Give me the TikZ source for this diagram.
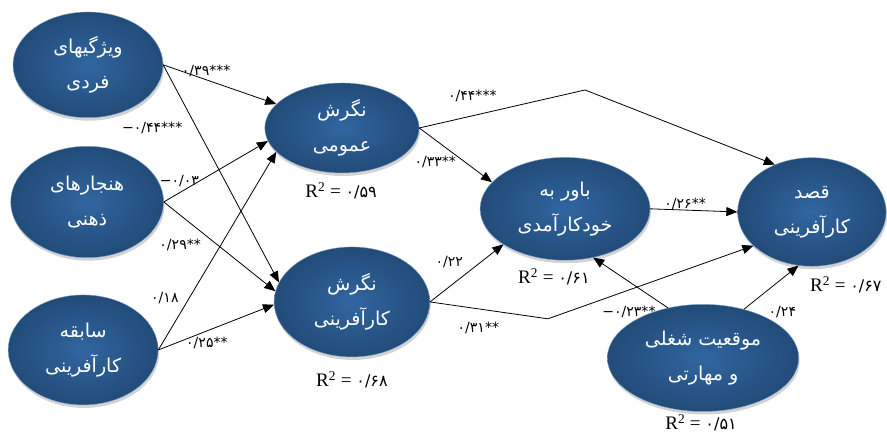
\documentclass[tikz,border=0pt]{standalone}
\usepackage{fontspec}
\setmainfont{Liberation Serif}
\newfontfamily\farsifont[Script=Arabic]{DejaVu Sans}
\newfontfamily\numfont{DejaVu Sans}
\TeXXeTstate=1
\usepackage{tikz}
\usetikzlibrary{shapes.geometric,shadows,arrows.meta}
\definecolor{nodeblue}{HTML}{3066A0}
\definecolor{nodedark}{HTML}{224B78}
\definecolor{nodeedge}{HTML}{7EA3CB}

\begin{document}
\begin{tikzpicture}[latent/.style={ellipse, shading=radial, inner color=nodeblue, outer color=nodedark, draw=nodeedge, line width=0.4pt, drop shadow={opacity=0.35, shadow xshift=1pt, shadow yshift=-3pt}, text=white, align=center, inner sep=0pt, font=\farsifont\fontsize{19}{35}\selectfont},
	coef/.style={font=\numfont\fontsize{14}{16}\selectfont, inner sep=2pt},
	rsq/.style={font=\fontsize{19}{22}\selectfont},
	link/.style={-{Triangle[length=11pt,width=9pt]}, line width=0.8pt}]
	\useasboundingbox (0,0) rectangle (31.05,15.19);
	\node[latent, minimum width=5.25cm, minimum height=3.7cm] at (3.08,12.92) (fardi) {\beginR ویژگیهای\endR\\\beginR فردی\endR};
	\node[latent, minimum width=5.35cm, minimum height=3.9cm] at (3.05,8.12) (zehni) {\beginR هنجارهای\endR\\\beginR ذهنی\endR};
	\node[latent, minimum width=5.25cm, minimum height=3.85cm] at (2.91,2.94) (sabeghe) {\beginR سابقه\endR\\\beginR کارآفرینی\endR};
	\node[latent, minimum width=5.4cm, minimum height=3.15cm] at (11.97,10.71) (omoomi) {\beginR نگرش\endR\\\beginR عمومی\endR};
	\node[latent, minimum width=5.45cm, minimum height=3.85cm] at (12.32,4.62) (karafarini) {\beginR نگرش\endR\\\beginR کارآفرینی\endR};
	\node[latent, minimum width=5.95cm, minimum height=3.6cm] at (19.78,7.88) (bavar) {\beginR باور به\endR\\\beginR خودکارآمدی\endR};
	\node[latent, minimum width=5.2cm, minimum height=3.8cm] at (28.42,7.77) (ghasd) {\beginR قصد\endR\\\beginR کارآفرینی\endR};
	\node[latent, minimum width=6.7cm, minimum height=3.75cm] at (24.61,2.66) (mowqeiat) {\beginR موقعیت شغلی\endR\\\beginR و مهارتی\endR};
	
	\node[rsq] at (11.94,8.51) (r2omoomi) {R\textsuperscript{2} = {\numfont\fontsize{16}{18}\selectfont ۰/۵۹}};
	\node[rsq] at (12.32,1.89) (r2karafarini) {R\textsuperscript{2} = {\numfont\fontsize{16}{18}\selectfont ۰/۶۸}};
	\node[rsq] at (19.39,5.5) (r2bavar) {R\textsuperscript{2} = {\numfont\fontsize{16}{18}\selectfont ۰/۶۱}};
	\node[rsq] at (29.61,5.22) (r2ghasd) {R\textsuperscript{2} = {\numfont\fontsize{16}{18}\selectfont ۰/۶۷}};
	\node[rsq] at (24.54,0.4) (r2mowqeiat) {R\textsuperscript{2} = {\numfont\fontsize{16}{18}\selectfont ۰/۵۱}};
	
	\coordinate (k1) at (20.48,12.04);
	\coordinate (k2) at (19.18,4.03);
	
	\draw[link] (fardi.east) -- node[coef, pos=0.38, anchor=south, yshift=1pt] {۰/۳۹***} (omoomi.160);
	\draw[link] (fardi.east) -- node[coef, pos=0.29, anchor=east, xshift=-12pt] {−۰/۴۴***} (karafarini.165);
	\draw[link] (zehni.east) -- node[coef, pos=0.15, anchor=south, yshift=4pt] {−۰/۰۳} (omoomi.190);
	\draw[link] (zehni.east) -- node[coef, pos=0.48, anchor=east, xshift=-14pt] {۰/۲۹**} (karafarini.172);
	\draw[link] (sabeghe.east) -- node[coef, pos=0.26, anchor=east, xshift=-8pt] {۰/۱۸} (omoomi.200);
	\draw[link] (sabeghe.east) -- node[coef, pos=0.42, anchor=north, yshift=-4pt] {۰/۲۵**} (karafarini.182);
	\draw[link] (omoomi.east) -- node[coef, pos=0.32, anchor=south, yshift=12pt] {۰/۴۴***} (k1) -- (ghasd.128);
	\draw[link] (omoomi.east) -- node[coef, pos=0.62, anchor=east, xshift=-6pt] {۰/۳۳**} (bavar.160);
	\draw[link] (karafarini.east) -- node[coef, pos=0.7, anchor=east, xshift=-16pt] {۰/۲۲} (bavar.210);
	\draw[link] (karafarini.east) -- node[coef, pos=0.41, anchor=north, yshift=-11pt] {۰/۳۱**} (k2) -- (ghasd.210);
	\draw[link] (bavar.east) -- node[coef, pos=0.4, anchor=south, yshift=-2pt] {۰/۲۶**} (ghasd.west);
	\draw[link] (mowqeiat.125) -- node[coef, pos=0.0, anchor=east, xshift=-10pt, yshift=-4pt] {−۰/۲۳**} (bavar.300);
	\draw[link] (mowqeiat.50) -- node[coef, pos=0.3, anchor=north west, xshift=6pt, yshift=-8pt] {۰/۲۴} (ghasd.256);
\end{tikzpicture}
\end{document}
